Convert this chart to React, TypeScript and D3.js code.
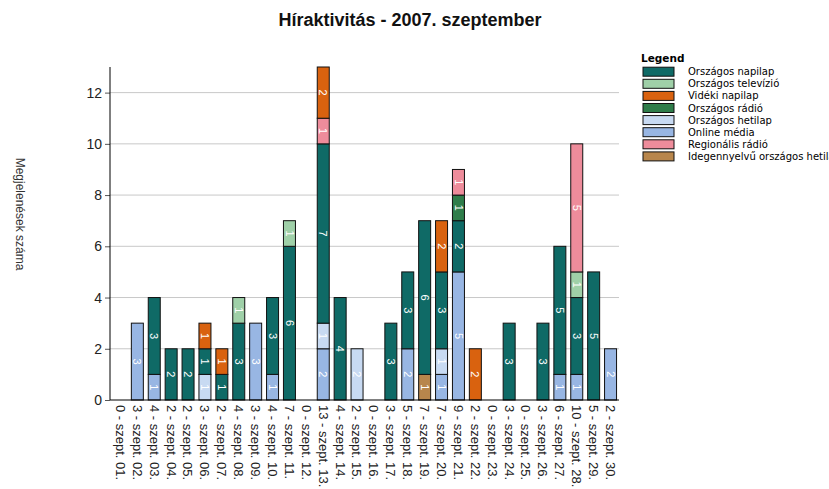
import React, { useEffect, useRef } from 'react';
import * as d3 from 'd3';

const title = 'Híraktivitás - 2007. szeptember';
const yLabel = 'Megjelenések száma';

const days = ['01', '02', '03', '04', '05', '06', '07', '08', '09', '10', '11', '12', '13', '14', '15',
  '16', '17', '18', '19', '20', '21', '22', '23', '24', '25', '26', '27', '28', '29', '30'];

// stacking order bottom -> top
const stackKeys = ['Online média', 'Országos hetilap', 'Idegennyelvű országos hetilap', 'Országos napilap',
  'Országos televízió', 'Országos rádió', 'Regionális rádió', 'Vidéki napilap'];

// legend order
const legendKeys = ['Országos napilap', 'Országos televízió', 'Vidéki napilap', 'Országos rádió',
  'Országos hetilap', 'Online média', 'Regionális rádió', 'Idegennyelvű országos hetilap'];

const colors: Record<string, string> = {
  'Országos napilap': '#0f6a66',
  'Országos televízió': '#9fd0a8',
  'Vidéki napilap': '#d9620f',
  'Országos rádió': '#2f7d4a',
  'Országos hetilap': '#c8daf2',
  'Online média': '#98b6e3',
  'Regionális rádió': '#ee8c9b',
  'Idegennyelvű országos hetilap': '#b8864c',
};

// values per day, one array per series
const online = [0, 3, 1, 0, 0, 0, 0, 0, 3, 1, 0, 0, 2, 0, 0, 0, 0, 2, 0, 1, 5, 0, 0, 0, 0, 0, 1, 1, 0, 2];
const hetilap = [0, 0, 0, 0, 0, 1, 0, 0, 0, 0, 0, 0, 1, 0, 2, 0, 0, 0, 0, 1, 0, 0, 0, 0, 0, 0, 0, 0, 0, 0];
const idegen = [0, 0, 0, 0, 0, 0, 0, 0, 0, 0, 0, 0, 0, 0, 0, 0, 0, 0, 1, 0, 0, 0, 0, 0, 0, 0, 0, 0, 0, 0];
const napilap = [0, 0, 3, 2, 2, 1, 1, 3, 0, 3, 6, 0, 7, 4, 0, 0, 3, 3, 6, 3, 2, 0, 0, 3, 0, 3, 5, 3, 5, 0];
const televizio = [0, 0, 0, 0, 0, 0, 0, 1, 0, 0, 1, 0, 0, 0, 0, 0, 0, 0, 0, 0, 0, 0, 0, 0, 0, 0, 0, 1, 0, 0];
const radio = [0, 0, 0, 0, 0, 0, 0, 0, 0, 0, 0, 0, 0, 0, 0, 0, 0, 0, 0, 0, 1, 0, 0, 0, 0, 0, 0, 0, 0, 0];
const regionalis = [0, 0, 0, 0, 0, 0, 0, 0, 0, 0, 0, 0, 1, 0, 0, 0, 0, 0, 0, 0, 1, 0, 0, 0, 0, 0, 0, 5, 0, 0];
const videki = [0, 0, 0, 0, 0, 1, 1, 0, 0, 0, 0, 0, 2, 0, 0, 0, 0, 0, 0, 2, 0, 2, 0, 0, 0, 0, 0, 0, 0, 0];

const yTicks = [0, 2, 4, 6, 8, 10, 12];

const seriesValues: Record<string, number[]> = {
  'Online média': online,
  'Országos hetilap': hetilap,
  'Idegennyelvű országos hetilap': idegen,
  'Országos napilap': napilap,
  'Országos televízió': televizio,
  'Országos rádió': radio,
  'Regionális rádió': regionalis,
  'Vidéki napilap': videki,
};

type Row = { day: string; label: string; [k: string]: number | string };

export default function App() {
  const svgRef = useRef<SVGSVGElement | null>(null);

  useEffect(() => {
    if (!svgRef.current) return;
    const svg = d3.select(svgRef.current);
    svg.selectAll('*').remove();

    const font = 'Arial, "Liberation Sans", sans-serif';
    const legendFont = '"DejaVu Sans", Verdana, sans-serif';
    const margin = { left: 110, right: 619, top: 67, bottom: 400 };

    const rows: Row[] = days.map((d, i) => {
      const r: Row = { day: d, label: '' };
      let total = 0;
      stackKeys.forEach(k => { r[k] = seriesValues[k][i]; total += seriesValues[k][i]; });
      r.label = `${total} - szept. ${d}.`;
      return r;
    });

    const x = d3.scaleBand<string>()
      .domain(days)
      .range([112, margin.right])
      .paddingInner(0.29)
      .paddingOuter(0.145);

    const y = d3.scaleLinear().domain([0, 13]).range([margin.bottom, margin.top]);

    // title
    svg.append('text')
      .attr('x', 410).attr('y', 26)
      .attr('text-anchor', 'middle')
      .attr('font-family', font).attr('font-size', 18).attr('font-weight', 'bold')
      .attr('fill', '#111')
      .text(title);

    // gridlines
    svg.append('g').selectAll('line')
      .data(yTicks.filter(t => t > 0))
      .join('line')
      .attr('x1', margin.left).attr('x2', margin.right)
      .attr('y1', d => y(d)).attr('y2', d => y(d))
      .attr('stroke', '#c8c8c8').attr('stroke-width', 1);

    // y axis
    const yAxis = svg.append('g')
      .attr('transform', `translate(${margin.left},0)`)
      .call(d3.axisLeft(y).tickValues(yTicks).tickSize(5).tickSizeOuter(0));
    yAxis.select('.domain').remove();
    yAxis.selectAll('line').attr('stroke', '#555');
    yAxis.selectAll('text')
      .attr('font-family', font).attr('font-size', 14).attr('fill', '#222').attr('x', -8);
    svg.append('line')
      .attr('x1', margin.left).attr('x2', margin.left)
      .attr('y1', y(13)).attr('y2', margin.bottom)
      .attr('stroke', '#000');

    // y label
    svg.append('text')
      .attr('transform', `translate(20,214) rotate(90)`)
      .attr('text-anchor', 'middle')
      .attr('dy', '0.35em')
      .attr('font-family', font).attr('font-size', 12).attr('fill', '#333')
      .text(yLabel);

    // bars
    const stacked = d3.stack<Row>().keys(stackKeys).value((d, k) => d[k] as number)(rows);

    const layers = svg.append('g').selectAll('g')
      .data(stacked)
      .join('g')
      .attr('fill', d => colors[d.key]);

    layers.selectAll('rect')
      .data(d => d.filter(s => s[1] - s[0] > 0))
      .join('rect')
      .attr('x', d => x(d.data.day)!)
      .attr('y', d => y(d[1]))
      .attr('width', x.bandwidth())
      .attr('height', d => y(d[0]) - y(d[1]))
      .attr('stroke', '#111')
      .attr('stroke-width', 1);

    layers.selectAll('text')
      .data(d => d.filter(s => s[1] - s[0] > 0))
      .join('text')
      .attr('transform', d => `translate(${x(d.data.day)! + x.bandwidth() / 2},${y((d[0] + d[1]) / 2)}) rotate(90)`)
      .attr('text-anchor', 'middle')
      .attr('dy', '0.35em')
      .attr('font-family', font).attr('font-size', 11)
      .attr('fill', '#fff')
      .text(d => String(d[1] - d[0]));

    // x axis
    svg.append('line')
      .attr('x1', margin.left).attr('x2', margin.right)
      .attr('y1', margin.bottom).attr('y2', margin.bottom)
      .attr('stroke', '#000');

    svg.append('g').selectAll('text')
      .data(rows)
      .join('text')
      .attr('transform', d => `translate(${x(d.day)! + x.bandwidth() / 2},${margin.bottom + 5}) rotate(90)`)
      .attr('dy', '0.35em')
      .attr('font-family', font).attr('font-size', 13).attr('fill', '#222')
      .text(d => d.label);

    // legend
    const legend = svg.append('g');
    legend.append('text')
      .attr('x', 641).attr('y', 62)
      .attr('font-family', legendFont).attr('font-size', 10.5).attr('font-weight', 'bold')
      .attr('fill', '#000')
      .text('Legend');
    const items = legend.selectAll('g.item')
      .data(legendKeys)
      .join('g')
      .attr('class', 'item')
      .attr('transform', (_, i) => `translate(643,${71.7 + i * 12.1})`);
    items.append('rect')
      .attr('x', 0).attr('y', -4.5)
      .attr('width', 31).attr('height', 9)
      .attr('fill', d => colors[d])
      .attr('stroke', '#111');
    items.append('text')
      .attr('x', 45).attr('dy', '0.35em')
      .attr('font-family', legendFont).attr('font-size', 10).attr('fill', '#000')
      .text(d => d);
  }, []);

  return (
    <svg ref={svgRef} width={829} height={489}
      style={{ position: 'absolute', left: 0, top: 0, background: '#fff' }} />
  );
}
